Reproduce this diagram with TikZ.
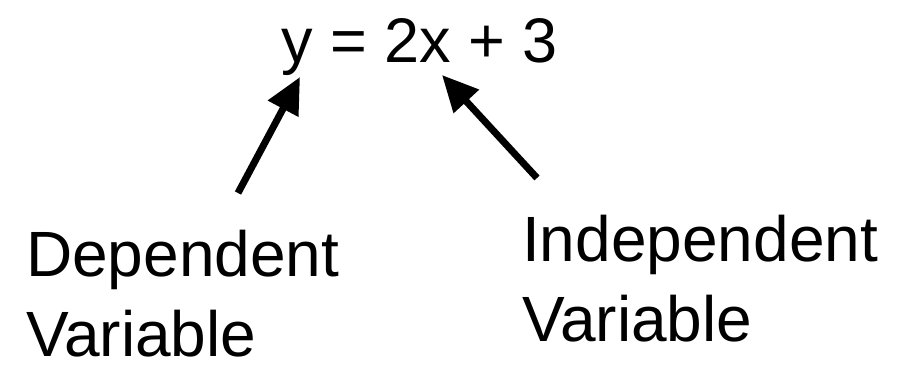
\documentclass[tikz,border=0pt]{standalone}
\usepackage{fontspec}
\setmainfont{Liberation Sans}
\usetikzlibrary{arrows.meta}
\begin{document}
\begin{tikzpicture}[x=1pt,y=-1pt,
  lbl/.style={inner sep=0pt, anchor=base west, align=left, font=\fontsize{64}{80}\selectfont},
  eq/.style={inner sep=0pt, anchor=base west, font=\fontsize{63}{70}\selectfont},
  pointer/.style={line width=7pt, -{Triangle[length=36pt,width=33pt]}}]
\useasboundingbox (0,0) rectangle (897,372);
\node[eq] (eqn) at (281,62) {y = 2x + 3};
\node[lbl] (dep) at (26,356) {Dependent\\Variable};
\node[lbl] (ind) at (522,341) {Independent\\Variable};
\coordinate (ytip) at (300,77);
\coordinate (xtip) at (442,75);
\coordinate (dtail) at (238,193);
\coordinate (itail) at (537,178);
\draw[pointer] (dtail) -- (ytip);
\draw[pointer] (itail) -- (xtip);
\end{tikzpicture}
\end{document}
